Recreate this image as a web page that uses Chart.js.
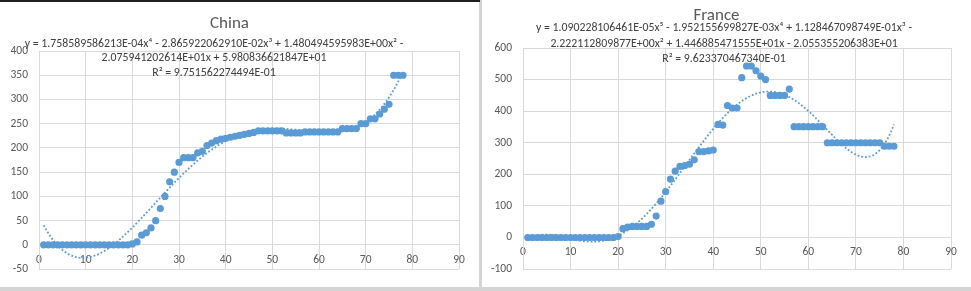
<!DOCTYPE html>
<html>
<head>
<meta charset="utf-8">
<script src="https://cdn.jsdelivr.net/npm/chart.js@4/dist/chart.umd.min.js"></script>
<style>
    body { margin: 0; background: #d4d4d4; width: 971px; height: 291px; overflow: hidden; position: relative; }
    .box { position: absolute; top: 0; height: 287px; background: #fff; }
    #leftBox { left: 0; width: 479px; }
    #rightBox { left: 482px; width: 489px; }
    #topLine { position: absolute; left: 0; top: 0; width: 480px; height: 2px; background: #1f1f1f; }
</style>
</head>
<body>
<div class="box" id="leftBox"><canvas id="chinaChart" width="479" height="287"></canvas></div>
<div class="box" id="rightBox"><canvas id="franceChart" width="489" height="287"></canvas></div>
<div id="topLine"></div>
<script>
// day numbers 1..78
const days = Array.from({ length: 78 }, (_, i) => i + 1);

const chinaValues = [
    0, 0, 0, 0, 0, 0, 0, 0, 0, 0, 0, 0, 0, 0, 0, 0, 0, 0, 0,
    2, 6, 20, 25, 35, 50, 75, 100, 130, 150, 170,
    180, 180, 180, 190, 193, 205, 210, 215, 218, 220,
    222, 224, 226, 228, 230, 232, 235, 235, 235, 235,
    235, 235, 231, 231, 231, 231, 233, 233, 233, 233,
    233, 233, 233, 233, 240, 240, 240, 240, 250, 250,
    260, 260, 270, 280, 290, 350, 350, 350
];

const franceValues = [
    0, 0, 0, 0, 0, 0, 0, 0, 0, 0, 0, 0, 0, 0, 0, 0, 0, 0, 0,
    3, 28, 33, 35, 35, 35, 35, 42, 68, 115, 145,
    185, 210, 225, 228, 232, 246, 272, 272, 274, 277,
    358, 356, 418, 410, 410, 506, 543, 543, 528, 511,
    500, 450, 450, 450, 450, 470,
    351, 351, 351, 351, 351, 351, 351,
    300, 300, 300, 300, 300, 300, 300, 300, 300, 300, 300, 300,
    289, 289, 289
];

// trendline coefficients as printed on the charts, constant term first
const chinaCoef = [5.980836621847E+01, -2.075941202614E+01, 1.480494595983E+00, -2.865922062910E-02, 1.758589586213E-04];
const franceCoef = [-2.055355206383E+01, 1.446885471555E+01, -2.222112809877E+00, 1.128467098749E-01, -1.952155699827E-03, 1.090228106461E-05];

const chinaLabel = [
    'y = 1.758589586213E-04x\u2074 - 2.865922062910E-02x\u00b3 + 1.480494595983E+00x\u00b2 -',
    '2.075941202614E+01x + 5.980836621847E+01',
    'R\u00b2 = 9.751562274494E-01'
];
const franceLabel = [
    'y = 1.090228106461E-05x\u2075 - 1.952155699827E-03x\u2074 + 1.128467098749E-01x\u00b3 -',
    '2.222112809877E+00x\u00b2 + 1.446885471555E+01x - 2.055355206383E+01',
    'R\u00b2 = 9.623370467340E-01'
];

const blue = '#5b9bd5';
const font = 'Carlito, Lato, sans-serif';

function trend(coef, from, to) {
    let pts = [];
    for (let x = from; x <= to + 1e-9; x += 0.5) {
        let y = 0;
        for (let k = coef.length - 1; k >= 0; k--) y = y * x + coef[k];
        pts.push({ x: x, y: y });
    }
    return pts;
}

function equationPlugin(lines, cx, ys) {
    return {
        id: 'equation',
        afterDraw(chart) {
            let ctx = chart.ctx;
            ctx.save();
            ctx.font = '11.8px ' + font;
            ctx.fillStyle = '#404040';
            ctx.textAlign = 'center';
            ctx.textBaseline = 'middle';
            lines.forEach(function(line, i) {
                ctx.fillText(line, cx, ys[i]);
            });
            ctx.restore();
        }
    };
}

function makeChart(id, title, values, coef, yMin, yMax, yStep, yWidth, titlePad, eq) {
    let ctx = document.getElementById(id).getContext('2d');
    return new Chart(ctx, {
        type: 'scatter',
        data: {
            datasets: [{
                data: days.map((d, i) => ({ x: d, y: values[i] })),
                backgroundColor: blue,
                borderColor: blue,
                pointRadius: 3.6,
                pointBorderWidth: 0,
                order: 1
            }, {
                data: trend(coef, days[0], days[days.length - 1]),
                showLine: true,
                pointRadius: 0,
                borderColor: blue,
                borderWidth: 1.8,
                borderDash: [1.8, 2],
                tension: 0,
                order: 2
            }]
        },
        options: {
            responsive: false,
            animation: false,
            devicePixelRatio: 1,
            layout: { padding: { left: 0, right: 20, top: 0, bottom: 13 } },
            plugins: {
                legend: { display: false },
                tooltip: { enabled: false },
                title: {
                    display: true,
                    text: title,
                    color: '#595959',
                    font: { family: font, size: 17, weight: 'normal', lineHeight: 1.2 },
                    padding: titlePad
                }
            },
            scales: {
                x: {
                    type: 'linear',
                    position: { y: 0 },
                    min: 0, max: 90,
                    afterFit: function(scale) { scale.height = 0; },
                    ticks: { stepSize: 10, color: '#595959', padding: 8, font: { family: font, size: 11.5 } },
                    grid: { color: '#d9d9d9', drawTicks: false },
                    border: { color: '#d9d9d9' }
                },
                y: {
                    min: yMin, max: yMax,
                    afterFit: function(scale) { scale.width = yWidth; },
                    ticks: { stepSize: yStep, color: '#595959', padding: 11, font: { family: font, size: 11.5 } },
                    grid: { color: '#d9d9d9', drawTicks: false },
                    border: { color: '#d9d9d9' }
                }
            }
        },
        plugins: [eq]
    });
}

makeChart('chinaChart', 'China', chinaValues, chinaCoef, -50, 400, 50, 39,
    { top: 14, bottom: 16.6 }, equationPlugin(chinaLabel, 214, [44, 58.5, 73]));
makeChart('franceChart', 'France', franceValues, franceCoef, -100, 600, 100, 41,
    { top: 6, bottom: 21.6 }, equationPlugin(franceLabel, 242, [28.5, 44, 59]));
</script>
</body>
</html>
